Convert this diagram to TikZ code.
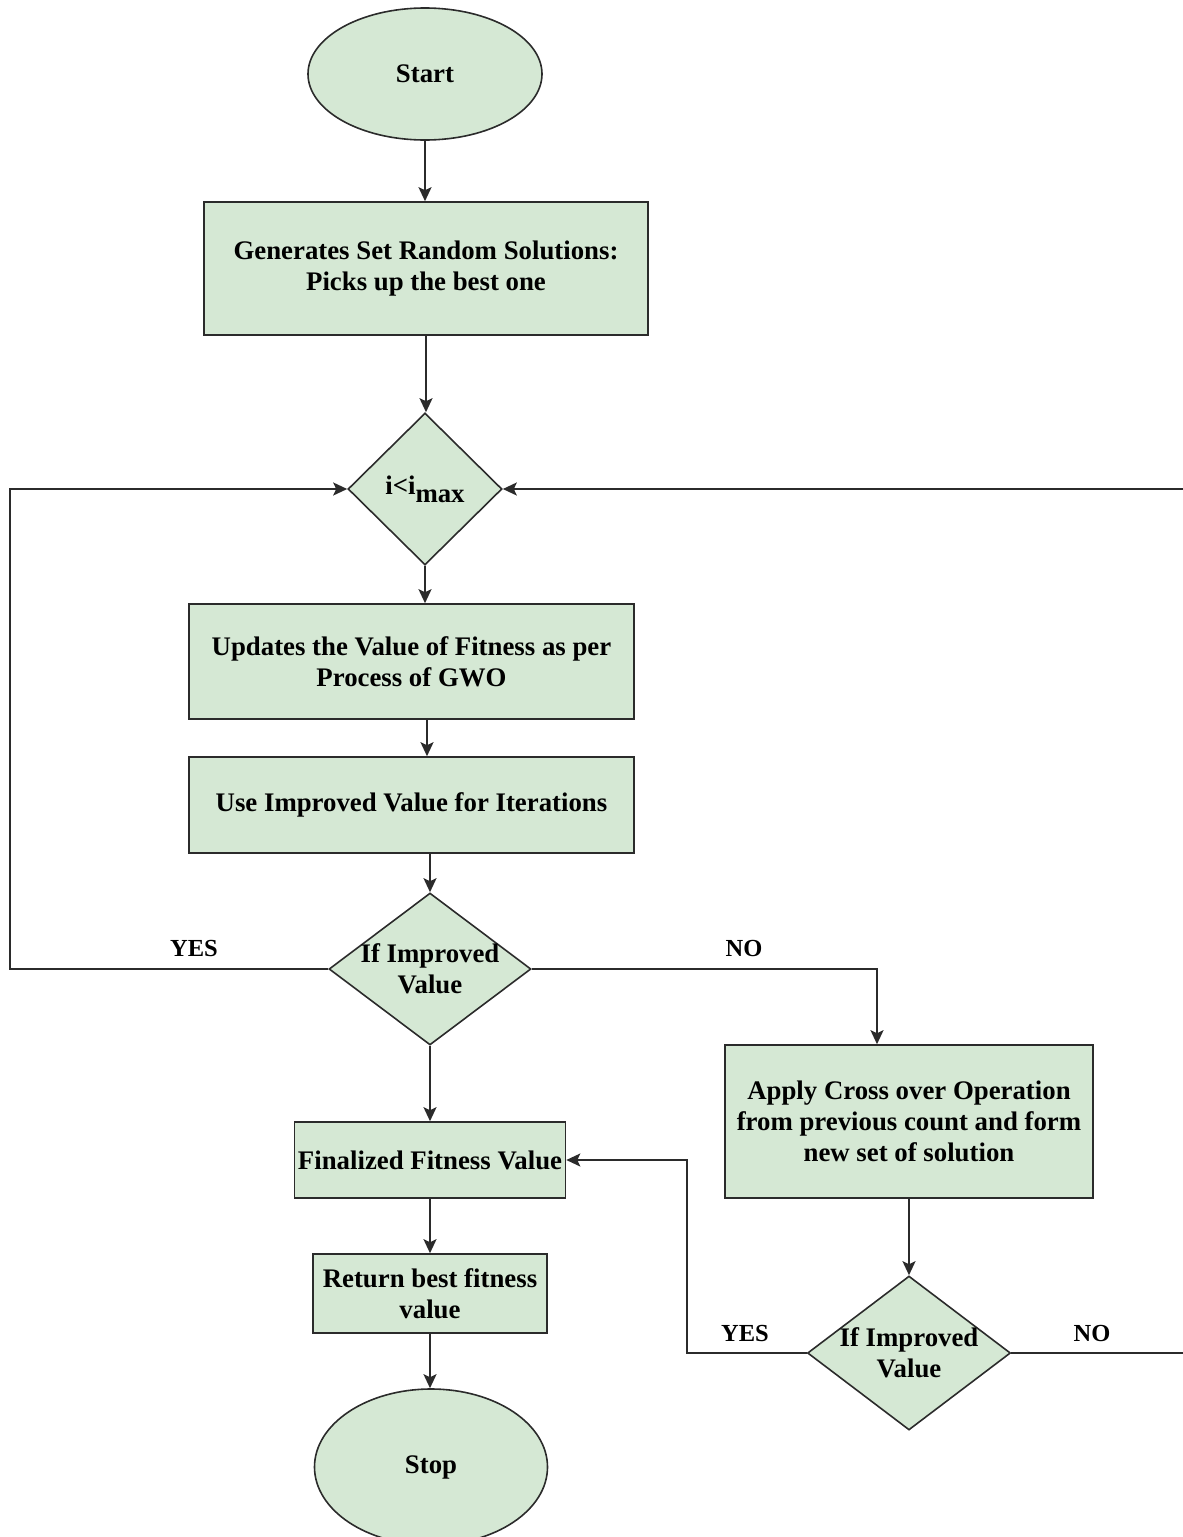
\documentclass[tikz,border=0pt]{standalone}
\usepackage{fontspec}
\setmainfont{Liberation Serif}
\usetikzlibrary{shapes.geometric,arrows.meta}
\definecolor{boxfill}{HTML}{D5E8D4}
\definecolor{edge}{HTML}{2B2B2B}
\begin{document}
\begin{tikzpicture}[x=1pt,y=-1pt,
  every node/.style={font=\bfseries\fontsize{26.8}{31}\selectfont, text=black},
  base/.style={draw=edge, fill=boxfill, line width=1.6pt, inner sep=0pt},
  procbox/.style={base, rectangle, align=center},
  term/.style={base, ellipse},
  decide/.style={base, diamond},
  lbl/.style={font=\bfseries\fontsize{24.5}{28}\selectfont},
  arr/.style={draw=edge, line width=1.9pt, -{Stealth[length=14pt,width=13pt,inset=3pt]}},
  link/.style={draw=edge, line width=1.9pt}]
\useasboundingbox (0,0) rectangle (1183,1537);
\clip (0,0) rectangle (1183,1537);

% terminals
\node[term, minimum width=234, minimum height=132] (start) at (425,74) {Start};
\node[term, minimum width=233, minimum height=156] (stop) at (431,1467) {Stop};

% process boxes
\node[procbox, minimum width=444, minimum height=133] (gen) at (426,268.5)
  {Generates Set Random Solutions:\\Picks up the best one};
\node[procbox, minimum width=445, minimum height=115] (upd) at (411.5,661.5)
  {Updates the Value of Fitness as per\\Process of GWO};
\node[procbox, minimum width=445, minimum height=96] (use) at (411.5,805)
  {Use Improved Value for Iterations};
\node[procbox, minimum width=368, minimum height=153] (cross) at (909,1121.5)
  {Apply Cross over Operation\\from previous count and form\\new set of solution};
\node[procbox, minimum width=271, minimum height=76] (final) at (430,1160)
  {Finalized Fitness Value};
\node[procbox, minimum width=234, minimum height=79] (ret) at (430,1293.5)
  {Return best fitness\\value};

% decisions
\node[decide, minimum width=154, minimum height=152,
  label={center:i<i\raisebox{-8pt}{max}}] (loop) at (425,489) {};
\node[decide, minimum width=202, minimum height=152,
  label={[align=center]center:If Improved\\Value}] (chk) at (430,969) {};
\node[decide, minimum width=203, minimum height=154,
  label={[align=center]center:If Improved\\Value}] (chk2) at (909,1353) {};

% main flow
\draw[arr] (start.south) -- (start.south |- gen.north);
\draw[arr] (gen.south) -- (gen.south |- loop.north);
\draw[arr] (loop.south) -- (loop.south |- upd.north);
\draw[arr] ([xshift=15.5pt]upd.south) -- ([xshift=15.5pt]upd.south |- use.north);
\draw[arr] (chk.north |- use.south) -- (chk.north);
\draw[arr] (chk.south) -- (chk.south |- final.north);
\draw[arr] (final.south) -- (final.south |- ret.north);
\draw[arr] (ret.south) -- (ret.south |- stop.north);

% first decision branches
\coordinate (yesleft) at (10,969);
\draw[arr] (chk.west) -- (yesleft) |- (loop.west);
\node[lbl] (yes1) at (194,948) {YES};
\draw[arr] (chk.east) -| ([xshift=-32pt]cross.north);
\node[lbl] (no1) at (744,948) {NO};

% crossover branch
\draw[arr] (cross.south) -- (chk2.north);
\coordinate (yesmid) at (687,1353);
\draw[arr] (chk2.west) -- (yesmid) |- (final.east);
\node[lbl] (yes2) at (745,1333) {YES};
\coordinate (noright) at (1200,1353);
\draw[arr] (chk2.east) -- (noright) |- (loop.east);
\node[lbl] (no2) at (1092,1333) {NO};
\end{tikzpicture}
\end{document}
